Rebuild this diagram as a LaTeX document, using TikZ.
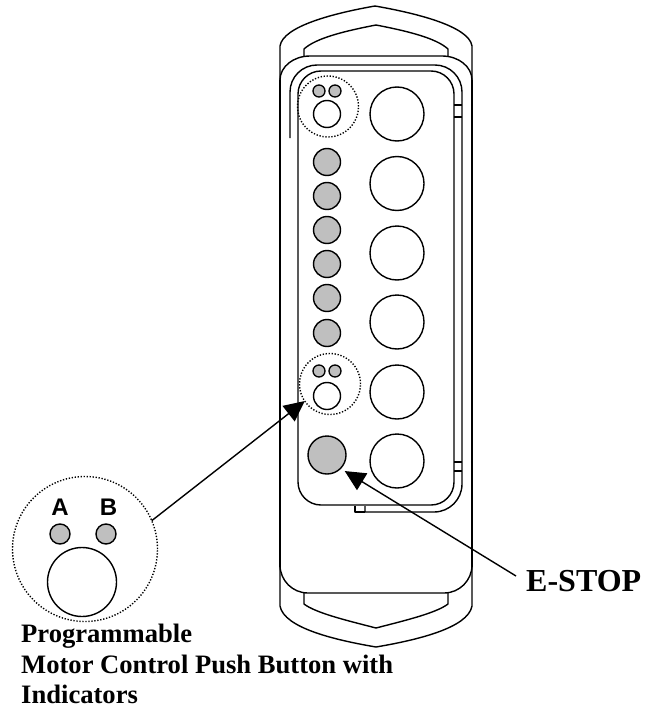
\documentclass[tikz,border=0pt]{standalone}
\usepackage{fontspec}
\setmainfont{Liberation Serif}
\newfontfamily\arialf{Liberation Sans}
\usetikzlibrary{arrows.meta}
\definecolor{ledgray}{gray}{0.75}
\tikzset{
  line/.style={draw=black,line width=1.4pt,line join=round},
  big/.style={circle,draw=black,line width=1.4pt,fill=white,minimum size=54pt,inner sep=0pt,outer sep=0pt},
  led/.style={circle,draw=black,line width=1.4pt,fill=ledgray,minimum size=27pt,inner sep=0pt,outer sep=0pt},
  small/.style={circle,draw=black,line width=1.3pt,fill=ledgray,minimum size=12pt,inner sep=0pt,outer sep=0pt},
  btn/.style={circle,draw=black,line width=1.4pt,fill=white,minimum size=27pt,inner sep=0pt,outer sep=0pt},
  halo/.style={circle,draw=black,line width=1.4pt,dash pattern=on 1.3pt off 1.7pt,minimum size=61pt,inner sep=0pt,outer sep=0pt},
  pointer/.style={draw=black,line width=1.4pt,-{Triangle[length=20.5pt,width=19.5pt]}},
  label/.style={anchor=base west,inner sep=0pt},
  caption/.style={label,font=\bfseries\fontsize{26.6}{30}\selectfont},
  keyletter/.style={font=\arialf\bfseries\fontsize{24}{26}\selectfont,inner sep=0pt},
  ledbig/.style={circle,draw=black,line width=1.4pt,fill=ledgray,minimum size=20pt,inner sep=0pt,outer sep=0pt},
}
\begin{document}
\begin{tikzpicture}[x=1pt,y=-1pt]
\useasboundingbox (0,0) rectangle (650,706);
\fill[white] (0,0) rectangle (650,706);
% outer body
\draw[line] (280,80) -- (280,46) .. controls (283,26) and (335,13) .. (375,6) .. controls (415,13) and (469,26) .. (472,46) -- (472,80);
\draw[line] (280,80) -- (280,567) (472,80) -- (472,567);
\draw[line] (280,80) arc[start angle=180,end angle=270,x radius=30,y radius=24] -- (442,56) arc[start angle=270,end angle=360,x radius=30,y radius=24];
\draw[line] (304,56) -- (304,49) .. controls (316,38) and (345,31) .. (376,25) .. controls (407,31) and (436,38) .. (448,49) -- (448,56);
% bottom
\draw[line] (280,565) arc[start angle=180,end angle=90,x radius=28,y radius=28] -- (444,593) arc[start angle=90,end angle=0,x radius=28,y radius=28];
\draw[line] (304,593) -- (304,604) .. controls (316,613) and (345,620) .. (376,628) .. controls (407,620) and (436,613) .. (448,604) -- (448,593);
\draw[line] (280,565) -- (280,606) .. controls (284,628) and (335,640) .. (376,647) .. controls (417,640) and (468,628) .. (472,606) -- (472,565);
% second outline
\draw[line] (290,138) -- (290,92) arc[start angle=180,end angle=270,radius=27] -- (435,65) arc[start angle=270,end angle=360,radius=27] -- (462,484) arc[start angle=0,end angle=90,radius=28] -- (365,512) -- (365,506);
\draw[line] (355,506) -- (355,512) -- (365,512);
% panel
\draw[line,rounded corners=23pt] (298,71) rectangle (454,505);
\draw[line] (454,105) -- (462,105) (454,117) -- (462,117) (454,462) -- (462,462) (454,471) -- (462,471);
% large buttons
\node[big] (b1) at (397,114) {};
\node[big] (b2) at (397,183.5) {};
\node[big] (b3) at (397,253) {};
\node[big] (b4) at (397,322) {};
\node[big] (b5) at (397,392) {};
\node[big] (b6) at (397,461) {};
% lamps
\node[led] (l1) at (327,162) {};
\node[led] (l2) at (327,196) {};
\node[led] (l3) at (327,230) {};
\node[led] (l4) at (327,264) {};
\node[led] (l5) at (327,298) {};
\node[led] (l6) at (327,333) {};
% top push button
\node[halo] (dot1) at (328,106.5) {};
\node[small] (t1a) at (319,91) {};
\node[small] (t1b) at (335,91) {};
\node[btn] (t1c) at (327,114) {};
% lower push button
\node[halo] (dot2) at (330,384) {};
\node[small] (t2a) at (319,371) {};
\node[small] (t2b) at (335,371) {};
\node[btn] (t2c) at (327,396) {};
% e-stop
\node[circle,draw=black,line width=1.4pt,fill=ledgray,minimum size=38pt,inner sep=0pt,outer sep=0pt] (estop) at (327,455) {};
% detail
\node[halo,minimum size=145pt] (detail) at (85,549) {};
\node[ledbig] (da) at (60,534) {};
\node[ledbig] (db) at (106,534) {};
\node[big,minimum size=69pt] (dc) at (82,582) {};
\node[keyletter] (la) at (60,507) {A};
\node[keyletter] (lb) at (108.5,507) {B};
% labels
\node[label,font=\bfseries\fontsize{32}{34}\selectfont] (stop) at (526,591) {E-STOP};
\node[caption] (cap1) at (21,642) {Programmable};
\node[caption] (cap2) at (21,673) {Motor Control Push Button with};
\node[caption] (cap3) at (21,703) {Indicators};
% pointers
\coordinate (stoptail) at (516,576);
\draw[pointer] (detail.23) -- (dot2.214);
\draw[pointer,shorten >=5pt] (stoptail) -- (estop.-45);
\end{tikzpicture}
\end{document}
